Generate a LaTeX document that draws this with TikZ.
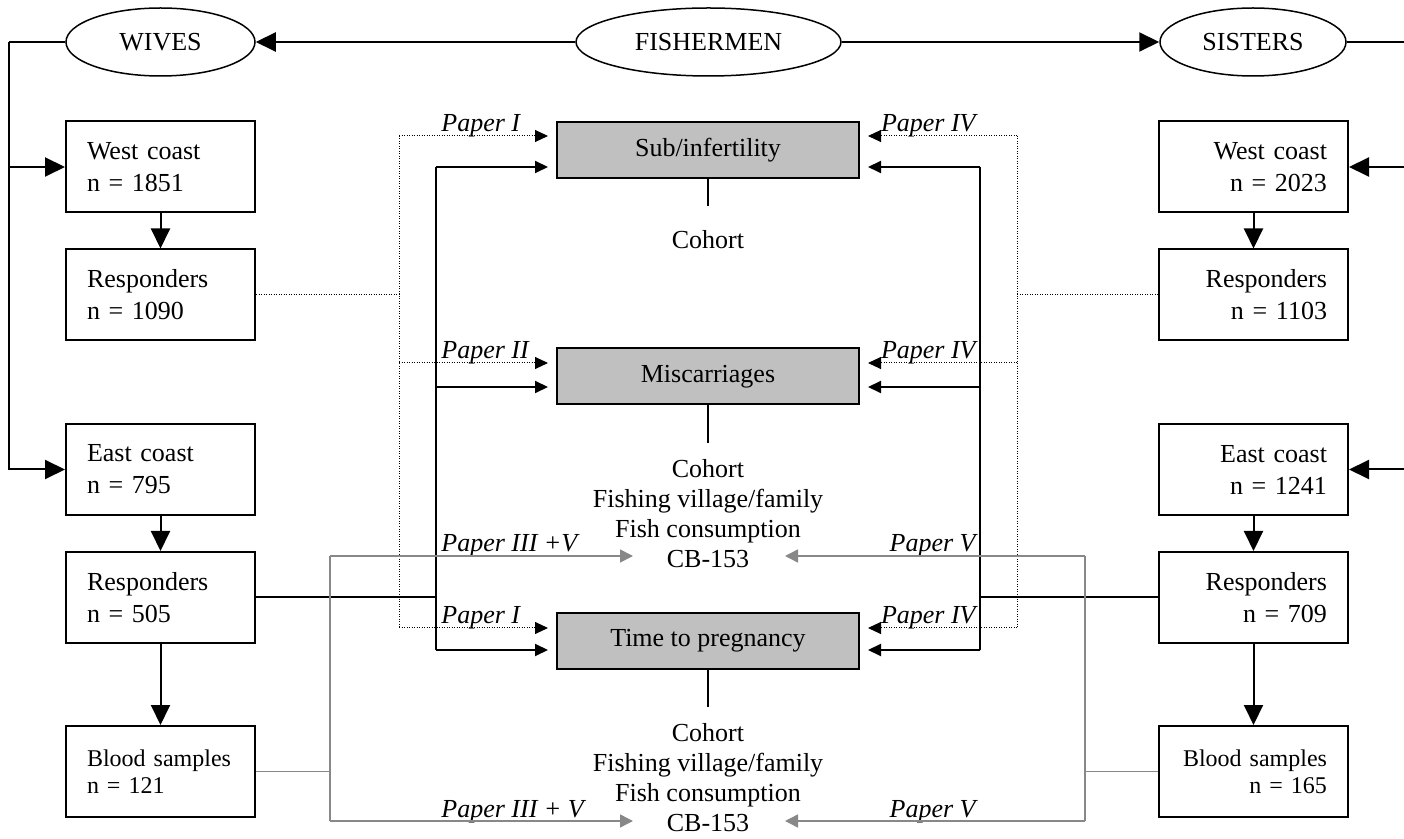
\documentclass[tikz,border=0pt]{standalone}
\usepackage{fontspec}
\setmainfont{Liberation Serif}
\usetikzlibrary{shapes.geometric,arrows.meta}

\definecolor{boxgray}{RGB}{192,192,192}
\definecolor{linegray}{RGB}{136,136,136}

\tikzset{
  ln/.style={line width=1pt},
  dotln/.style={line width=0.5pt, dash pattern=on 0.5pt off 0.75pt},
  grln/.style={line width=0.75pt, draw=linegray},
  bigtip/.style={-{Triangle[length=10pt,width=9.5pt]}},
  smalltip/.style={-{Triangle[length=6.5pt,width=6pt]}, shorten >=4pt},
  graytip/.style={-{Triangle[length=6.5pt,width=6.5pt]}},
  oval/.style={draw, ellipse, line width=0.75pt, minimum height=34pt, inner sep=0pt, font=\fontsize{13}{15}\selectfont},
  sbox/.style={draw, line width=1pt, minimum height=45.5pt, text width=73.5pt, inner xsep=10.5pt, font=\fontsize{13}{16}\selectfont},
  wbox/.style={sbox, align=left},
  sisbox/.style={sbox, align=right},
  bloodfont/.style={font=\fontsize{12}{13.5}\selectfont},
  outcome/.style={draw, line width=1pt, fill=boxgray, minimum width=151pt, minimum height=28pt, font=\fontsize{13}{15}\selectfont},
  outnote/.style={align=center, anchor=north, inner xsep=0pt, font=\fontsize{13}{15}\selectfont},
  ppr/.style={inner sep=0pt, font=\fontsize{13}{15}\selectfont\itshape}
}

\begin{document}
\begin{tikzpicture}[x=0.5pt,y=0.5pt,yscale=-1]
  \useasboundingbox (0,0) rectangle (1404,839);

  \node[oval, minimum width=94.5pt] (wives) at (160.5,42) {WIVES};
  \node[oval, minimum width=132.5pt] (fish) at (708.5,42) {FISHERMEN};
  \node[oval, minimum width=93pt] (sis) at (1253,42) {SISTERS};

  \node[wbox] (westW) at (160.5,167) {West coast\\n = 1851};
  \node[wbox] (resp1W) at (160.5,295) {Responders\\n = 1090};
  \node[wbox] (eastW) at (160.5,469.5) {East coast\\n = 795};
  \node[wbox] (resp2W) at (160.5,597.5) {Responders\\n = 505};
  \node[wbox, bloodfont] (bloodW) at (160.5,771.5) {Blood samples\\n = 121};

  \node[sisbox] (westS) at (1253.5,167) {West coast\\n = 2023};
  \node[sisbox] (resp1S) at (1253.5,295) {Responders\\n = 1103};
  \node[sisbox] (eastS) at (1253.5,469.5) {East coast\\n = 1241};
  \node[sisbox] (resp2S) at (1253.5,597.5) {Responders\\n = 709};
  \node[sisbox, bloodfont] (bloodS) at (1253.5,771.5) {Blood samples\\n = 165};

  \node[outcome] (sub) at (708,150) {Sub/infertility};
  \node[outcome] (misc) at (708,376.5) {Miscarriages};
  \node[outcome] (ttp) at (708,641) {Time to pregnancy};

  \node[outnote, inner ysep=12pt] (noteSub) at (708,206) {Cohort};
  \node[outnote, inner ysep=8pt] (noteMisc) at (708,443) {Cohort\\Fishing village/family\\Fish consumption\\CB-153};
  \node[outnote, inner ysep=8pt] (noteTtp) at (708,707) {Cohort\\Fishing village/family\\Fish consumption\\CB-153};

  \node[ppr, anchor=base west] (pI) at (441,132) {Paper I};
  \node[ppr, anchor=base west] (pII) at (441,359) {Paper II};
  \node[ppr, anchor=base west] (pIIIa) at (441,552) {Paper III +V};
  \node[ppr, anchor=base west] (pIb) at (441,624) {Paper I};
  \node[ppr, anchor=base west] (pIIIb) at (441,817) {Paper III + V};
  \node[ppr, anchor=base east] (pIV) at (976,132) {Paper IV};
  \node[ppr, anchor=base east] (pIVb) at (976,359) {Paper IV};
  \node[ppr, anchor=base east] (pVa) at (976,552) {Paper V};
  \node[ppr, anchor=base east] (pIVc) at (976,624) {Paper IV};
  \node[ppr, anchor=base east] (pVb) at (976,817) {Paper V};

  \coordinate (lcorner) at (9,42);
  \coordinate (rcorner) at (1412,42);
  \coordinate (dotL1) at (399,136);
  \coordinate (dotL2) at (399,363);
  \coordinate (dotL3) at (399,628);
  \coordinate (dotR1) at (1017,136);
  \coordinate (dotR2) at (1017,363);
  \coordinate (dotR3) at (1017,628);
  \coordinate (solL1) at (436,167);
  \coordinate (solL2) at (436,387);
  \coordinate (solL3) at (436,650);
  \coordinate (solR1) at (980,167);
  \coordinate (solR2) at (980,387);
  \coordinate (solR3) at (980,650);
  \coordinate (grL1) at (330,556);
  \coordinate (grL2) at (330,821);
  \coordinate (grR1) at (1085,556);
  \coordinate (grR2) at (1085,821);
  \coordinate (grEndL1) at (633,556);
  \coordinate (grEndL2) at (633,821);
  \coordinate (grEndR1) at (785,556);
  \coordinate (grEndR2) at (785,821);

  \draw[ln,bigtip] (fish) -- (wives);
  \draw[ln,bigtip] (fish) -- (sis);
  \draw[ln] (wives) -- (lcorner);
  \draw[ln,bigtip] (lcorner) |- (westW);
  \draw[ln,bigtip] (lcorner) |- (eastW);
  \draw[ln] (sis) -- (rcorner);
  \draw[ln,bigtip] (rcorner) |- (westS);
  \draw[ln,bigtip] (rcorner) |- (eastS);

  \draw[ln,bigtip] (westW) -- (resp1W);
  \draw[ln,bigtip] (eastW) -- (resp2W);
  \draw[ln,bigtip] (resp2W) -- (bloodW);
  \draw[ln,bigtip] (westS) -- (resp1S);
  \draw[ln,bigtip] (eastS) -- (resp2S);
  \draw[ln,bigtip] (resp2S) -- (bloodS);

  \draw[ln] (sub) -- (noteSub);
  \draw[ln] (misc) -- (noteMisc);
  \draw[ln] (ttp) -- (noteTtp);

  \draw[dotln] (resp1W) -- (resp1W -| dotL1);
  \draw[dotln] (dotL1) -- (dotL3);
  \draw[dotln,smalltip] (dotL1) -- (dotL1 -| sub.west);
  \draw[dotln,smalltip] (dotL2) -- (dotL2 -| misc.west);
  \draw[dotln,smalltip] (dotL3) -- (dotL3 -| ttp.west);
  \draw[dotln] (resp1S) -- (resp1S -| dotR1);
  \draw[dotln] (dotR1) -- (dotR3);
  \draw[dotln,smalltip] (dotR1) -- (dotR1 -| sub.east);
  \draw[dotln,smalltip] (dotR2) -- (dotR2 -| misc.east);
  \draw[dotln,smalltip] (dotR3) -- (dotR3 -| ttp.east);

  \draw[ln] (resp2W) -- (resp2W -| solL1);
  \draw[ln] (solL1) -- (solL3);
  \draw[ln,smalltip] (solL1) -- (solL1 -| sub.west);
  \draw[ln,smalltip] (solL2) -- (solL2 -| misc.west);
  \draw[ln,smalltip] (solL3) -- (solL3 -| ttp.west);
  \draw[ln] (resp2S) -- (resp2S -| solR1);
  \draw[ln] (solR1) -- (solR3);
  \draw[ln,smalltip] (solR1) -- (solR1 -| sub.east);
  \draw[ln,smalltip] (solR2) -- (solR2 -| misc.east);
  \draw[ln,smalltip] (solR3) -- (solR3 -| ttp.east);

  \draw[grln] (bloodW) -- (bloodW -| grL1);
  \draw[grln] (grL1) -- (grL2);
  \draw[grln,graytip] (grL1) -- (grEndL1);
  \draw[grln,graytip] (grL2) -- (grEndL2);
  \draw[grln] (bloodS) -- (bloodS -| grR1);
  \draw[grln] (grR1) -- (grR2);
  \draw[grln,graytip] (grR1) -- (grEndR1);
  \draw[grln,graytip] (grR2) -- (grEndR2);
\end{tikzpicture}
\end{document}
